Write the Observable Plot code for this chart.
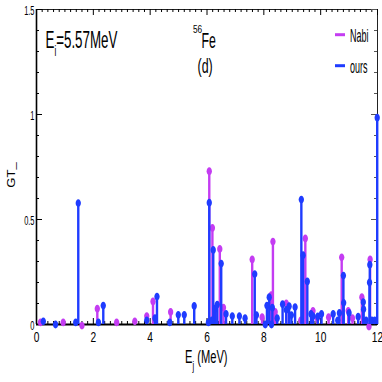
<!DOCTYPE html>
<html><head><meta charset="utf-8">
<script src="https://cdn.jsdelivr.net/npm/d3@7"></script>
<script src="https://cdn.jsdelivr.net/npm/@observablehq/plot@0.6"></script>
<style>
body{margin:0;background:#fff}
svg{font-family:"Liberation Sans",Arial,Helvetica,sans-serif;}
</style>
</head><body><div id="chart"></div>
<script>
// Data
const nabiE  = [0.14,0.94,1.60,2.14,2.82,3.46,3.88,4.10,4.72,6.08,6.19,6.45,6.58,7.59,7.94,8.26,8.32,8.40,8.79,9.30,9.46,9.73,9.88,10.28,10.74,10.97,11.12,11.45,11.70,11.74];
const nabiGT = [0.01,0.01,-0.005,0.075,0.01,0.015,0.04,0.11,0.06,0.73,0.46,0.36,0.08,0.31,0.035,0.14,0.395,0.06,0.10,0.02,0.41,0.065,0.03,0.035,0.32,0.065,0.03,0.13,-0.01,0.31];
const oursE  = [0.24,0.67,1.38,1.47,2.18,2.35,3.88,4.17,4.24,4.69,4.99,5.20,5.55,6.05,6.08,6.17,6.22,6.28,6.36,6.50,6.67,6.89,7.14,7.34,7.68,7.74,8.05,8.11,8.19,8.27,8.30,8.47,8.66,8.79,8.89,8.97,9.10,9.32,9.38,9.53,9.66,9.73,9.90,10.03,10.44,10.60,10.66,10.80,10.81,11.00,11.32,11.50,11.51,11.60,11.72,11.73,11.80,11.90,11.99];
const oursGT = [0.015,0.0,0.01,0.578,0.01,0.09,0.02,0.03,0.133,0.01,0.046,0.046,0.088,0.01,0.58,0.02,0.355,0.075,0.095,0.29,0.05,0.04,0.04,0.03,0.24,0.045,0.0,0.09,0.13,0.0,0.08,0.03,0.097,0.07,0.087,0.045,0.083,0.595,0.33,0.205,0.05,0.04,0.038,0.05,0.05,0.02,0.055,0.233,0.103,0.055,0.037,0.107,0.073,0.02,0.2,0.285,0.02,0.02,0.985];
const xTicks = [0,2,4,6,8,10,12];
const yTicks = [0,0.5,1,1.5];
const yTickLabels = ["0","0.5","1","1.5"];
const seriesNames = ["Nabi","ours"];
const colors = ["#c43cf2","#1f3cff"];

const nabi = nabiE.map((e,i)=>({e, gt: nabiGT[i]}));
const ours = oursE.map((e,i)=>({e, gt: oursGT[i]}));

const xMinor = d3.range(0, 60.5, 1).map(i=>i/5).filter(v=>!xTicks.includes(v));
const yMinor = d3.range(0, 15.5, 1).map(i=>i/10).filter(v=>!yTicks.includes(v));

const ellipse = {draw(ctx, size){
  const r = Math.sqrt(size/Math.PI), rx = r*0.68, ry = r, k = 0.5523;
  ctx.moveTo(rx,0);
  ctx.bezierCurveTo(rx, ry*k, rx*k, ry, 0, ry);
  ctx.bezierCurveTo(-rx*k, ry, -rx, ry*k, -rx, 0);
  ctx.bezierCurveTo(-rx, -ry*k, -rx*k, -ry, 0, -ry);
  ctx.bezierCurveTo(rx*k, -ry, rx, -ry*k, rx, 0);
  ctx.closePath();
}};

const W = 382, H = 382, mL = 36, mR = 5, mT = 9, mB = 58;
const fw = W - mL - mR, fh = H - mT - mB;

const chart = Plot.plot({
  width: W, height: H,
  marginLeft: mL, marginRight: mR, marginTop: mT, marginBottom: mB,
  x: {domain: [0, 12]},
  y: {domain: [0, 1.5]},
  marks: [
    Plot.frame({stroke: "#222", strokeWidth: 1}),
    Plot.tickX(xMinor, {x: d=>d, insetTop: fh-3, stroke: "#000"}),
    Plot.tickX(xTicks, {x: d=>d, insetTop: fh-6, stroke: "#000"}),
    Plot.tickX(xMinor, {x: d=>d, insetBottom: fh-3, stroke: "#000"}),
    Plot.tickX(xTicks, {x: d=>d, insetBottom: fh-6, stroke: "#000"}),
    Plot.tickY(yMinor, {y: d=>d, insetRight: fw-3, stroke: "#000"}),
    Plot.tickY(yTicks, {y: d=>d, insetRight: fw-6, stroke: "#000"}),
    Plot.tickY(yMinor, {y: d=>d, insetLeft: fw-3, stroke: "#555"}),
    Plot.tickY(yTicks, {y: d=>d, insetLeft: fw-6, stroke: "#555"}),
    Plot.ruleX([0], {stroke: "#000", strokeWidth: 1.6}),
    Plot.ruleY([0], {stroke: "#000", strokeWidth: 2}),
    Plot.axisX(xTicks, {tickSize: 0, tickPadding: 7, fontSize: 15, label: null}),
    Plot.axisY(yTicks, {tickSize: 0, tickPadding: 2, fontSize: 12, dy: 2, label: null,
      tickFormat: d => yTickLabels[yTicks.indexOf(d)]}),
    Plot.ruleX(nabi, {x: "e", y1: 0, y2: "gt", stroke: colors[0], strokeWidth: 2.4}),
    Plot.dot(nabi, {x: "e", y: "gt", r: 3.9, symbol: ellipse, fill: colors[0], stroke: "none"}),
    Plot.ruleX(ours, {x: "e", y1: 0, y2: "gt", stroke: colors[1], strokeWidth: 2.4}),
    Plot.dot(ours, {x: "e", y: "gt", r: 3.9, symbol: ellipse, fill: colors[1], stroke: "none"})
  ]
});
document.getElementById("chart").appendChild(chart);

const svg = d3.select(chart);
svg.selectAll('g[aria-label="x-axis tick label"] text').attr("transform", function(){ return this.getAttribute("transform") + " scale(0.68,1)"; });
svg.selectAll('g[aria-label="y-axis tick label"] text').attr("transform", function(){ return this.getAttribute("transform") + " scale(0.62,1)"; });

function addText(x, y, parts, size, sx, anchor="start") {
  const t = svg.append("text")
    .attr("transform", `translate(${x},${y}) scale(${sx},1)`)
    .attr("font-size", size).attr("text-anchor", anchor).attr("fill", "#000");
  parts.forEach(p => {
    const s = t.append("tspan").text(p.t);
    if (p.size) s.attr("font-size", p.size);
    if (p.dy) s.attr("dy", p.dy);
  });
  return t;
}

addText(45.5, 48.3, [{t:"E"},{t:"i", size:14, dy:8},{t:"=5.57MeV", dy:-8}], 23, 0.58);
addText(193, 33, [{t:"56"}], 11, 0.75);
addText(201.5, 47.5, [{t:"Fe"}], 22, 0.56);
addText(197.5, 73, [{t:"(d)"}], 20, 0.62);
addText(185, 363, [{t:"E"},{t:"j", size:12, dy:7},{t:" (MeV)", dy:-7}], 18, 0.62);
svg.append("text").attr("transform", "translate(15,175) rotate(-90) scale(1,0.82)")
  .attr("font-size", 13).attr("fill", "#000").text("GT_");

const legY = [34.7, 65.7];
seriesNames.forEach((name, i) => {
  svg.append("line").attr("x1", 335).attr("x2", 345).attr("y1", legY[i]).attr("y2", legY[i])
    .attr("stroke", colors[i]).attr("stroke-width", 3);
  addText(350, legY[i] + 7, [{t: name}], 18, 0.5);
});
</script>
</body></html>
